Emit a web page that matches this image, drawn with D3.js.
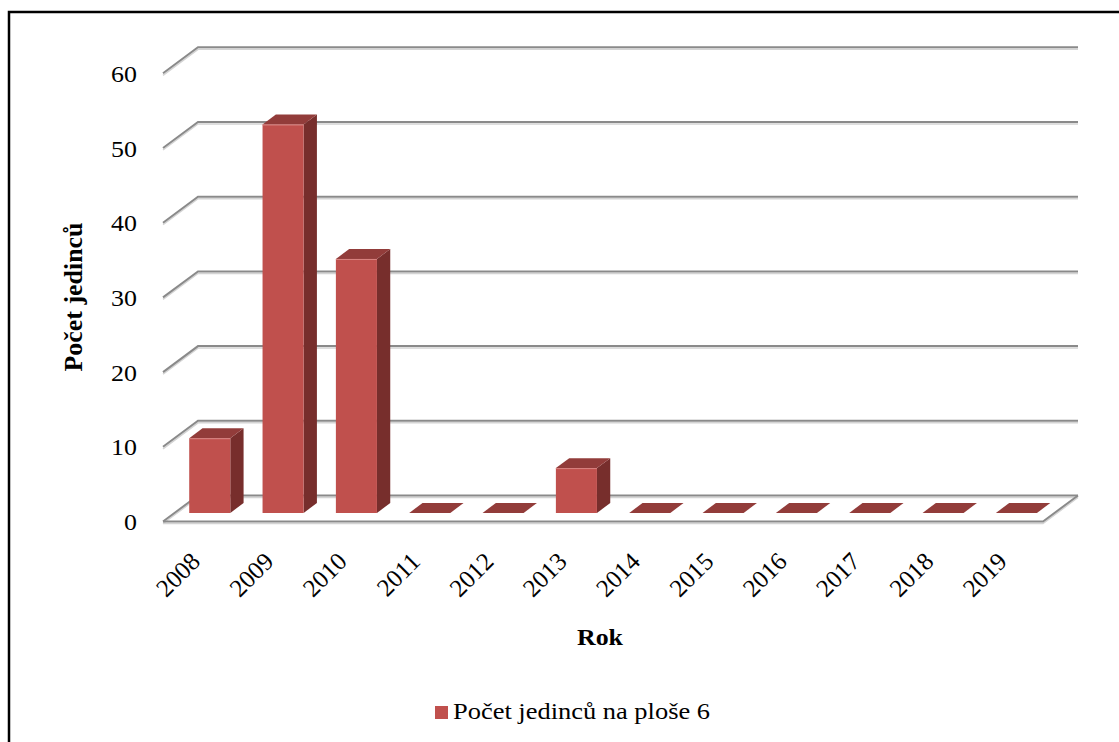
<!DOCTYPE html>
<html>
<head>
<meta charset="utf-8">
<script src="https://cdn.jsdelivr.net/npm/d3@7"></script>
<style>
  html, body { margin: 0; padding: 0; background: #fff; }
  svg { display: block; }
</style>
</head>
<body>
<svg id="chart" width="1119" height="742"></svg>
<script>
// Data
const years = ["2008", "2009", "2010", "2011", "2012", "2013", "2014", "2015", "2016", "2017", "2018", "2019"];
const counts = [10, 52, 34, 0, 0, 6, 0, 0, 0, 0, 0, 0];
const yTicks = [0, 10, 20, 30, 40, 50, 60];
const seriesName = "Počet jedinců na ploše 6";
const yTitle = "Počet jedinců";
const xTitle = "Rok";

const FONT = '"Liberation Serif", "Times New Roman", Tinos, serif';
const svg = d3.select("#chart");

// Frame around the chart area
svg.append("rect")
  .attr("x", 9).attr("y", 12)
  .attr("width", 1300).attr("height", 900)
  .attr("fill", "none").attr("stroke", "#000").attr("stroke-width", 2.5);

// Pseudo-3D geometry: front floor edge, depth vector, value scale
const floorFrontY = 521.5;
const depth = { dx: 35, dy: -26 };
const xCat = d3.scaleBand().domain(years).range([163, 1043]);
const h = d3.scaleLinear().domain([0, 60]).range([0, 448.2]);
const yFront = d3.scaleLinear().domain([0, 60]).range([floorFrontY, floorFrontY - 448.2]);

// project (screen-x on front plane, value, depth fraction) -> [x, y]
const P = (x, v, f) => [x + f * depth.dx, floorFrontY - h(v) + f * depth.dy];

const gridColor = "#8a8a8a";
const shadowColor = "#d4d4d4";
const xLeft = xCat.range()[0], xRight = xCat.range()[1];

// Gridlines: left-wall diagonal + back-wall horizontal, each with a soft shadow
const grid = svg.append("g");
function shadedLine(pts) {
  grid.append("polyline")
    .attr("points", pts.map(p => [p[0], p[1] + 2].join(",")).join(" "))
    .attr("fill", "none").attr("stroke", shadowColor).attr("stroke-width", 1.5);
  grid.append("polyline")
    .attr("points", pts.map(p => p.join(",")).join(" "))
    .attr("fill", "none").attr("stroke", gridColor).attr("stroke-width", 2);
}
yTicks.forEach(v => shadedLine([P(xLeft, v, 0), P(xLeft, v, 1), P(xRight, v, 1)]));

// Floor: front edge and right edge
shadedLine([P(xLeft, 0, 0), P(xRight, 0, 0), P(xRight, 0, 1)]);

// Bars (front face, right side, top)
const f1 = 0.33, f2 = 0.71;
const step = xCat.step();
const barOff = step * 0.2, barW = step * 0.56;
const colFront = "#c0504d", colTop = "#923c3a", colSide = "#772e2c", colEdge = "#d98583";
const poly = pts => pts.map(p => p.join(",")).join(" ");

const bars = svg.append("g").selectAll("g")
  .data(years.map((y, i) => ({ year: y, value: counts[i] })))
  .join("g");

bars.each(function(d) {
  const g = d3.select(this);
  const x0 = xCat(d.year) + barOff, x1 = x0 + barW;
  const v = d.value;
  if (v > 0) {
    g.append("polygon")
      .attr("points", poly([P(x1, 0, f1), P(x1, v, f1), P(x1, v, f2), P(x1, 0, f2)]))
      .attr("fill", colSide);
    g.append("polygon")
      .attr("points", poly([P(x0, 0, f1), P(x1, 0, f1), P(x1, v, f1), P(x0, v, f1)]))
      .attr("fill", colFront);
  }
  g.append("polygon")
    .attr("points", poly([P(x0, v, f1), P(x1, v, f1), P(x1, v, f2), P(x0, v, f2)]))
    .attr("fill", colTop);
  if (v > 0) {
    // light highlight along the front-top edge
    const a = P(x0, v, f1), b = P(x1, v, f1);
    g.append("line")
      .attr("x1", a[0]).attr("y1", a[1] + 0.5).attr("x2", b[0]).attr("y2", b[1] + 0.5)
      .attr("stroke", colEdge).attr("stroke-width", 1);
  }
});

// Y axis labels (slightly widened glyphs)
const yAxis = svg.append("g")
  .attr("transform", "translate(137,0)")
  .call(d3.axisLeft(yFront).tickValues(yTicks).tickSize(0).tickPadding(0));
yAxis.select(".domain").remove();
yAxis.selectAll(".tick")
  .attr("transform", d => `translate(0,${yFront(d)}) scale(1.08,1)`);
yAxis.selectAll("text")
  .style("font-family", FONT).style("font-size", "24px").attr("fill", "#000")
  .attr("dy", "0.36em");

// X axis labels (rotated)
const xAxis = svg.append("g")
  .attr("transform", "translate(0,563)")
  .call(d3.axisBottom(xCat).tickSize(0).tickPadding(0));
xAxis.select(".domain").remove();
xAxis.selectAll("text")
  .style("font-family", FONT).style("font-size", "25px").attr("fill", "#000")
  .attr("x", 0).attr("y", 0).attr("dy", 0)
  .attr("transform", "translate(2,0) rotate(-45)")
  .style("text-anchor", "end");

// Axis titles
svg.append("text")
  .attr("transform", "translate(82,297) rotate(-90)")
  .attr("text-anchor", "middle")
  .style("font-family", FONT).style("font-weight", "bold").style("font-size", "25px")
  .attr("textLength", 149).attr("lengthAdjust", "spacingAndGlyphs")
  .text(yTitle);

svg.append("text")
  .attr("x", 600).attr("y", 645)
  .attr("text-anchor", "middle")
  .style("font-family", FONT).style("font-weight", "bold").style("font-size", "23px")
  .attr("textLength", 46).attr("lengthAdjust", "spacingAndGlyphs")
  .text(xTitle);

// Legend
const legend = svg.append("g").attr("transform", "translate(435,706)");
legend.append("rect").attr("width", 13).attr("height", 13).attr("fill", colFront);
legend.append("text")
  .attr("x", 18).attr("y", 13)
  .style("font-family", FONT).style("font-size", "24px")
  .attr("textLength", 257).attr("lengthAdjust", "spacingAndGlyphs")
  .text(seriesName);
</script>
</body>
</html>
